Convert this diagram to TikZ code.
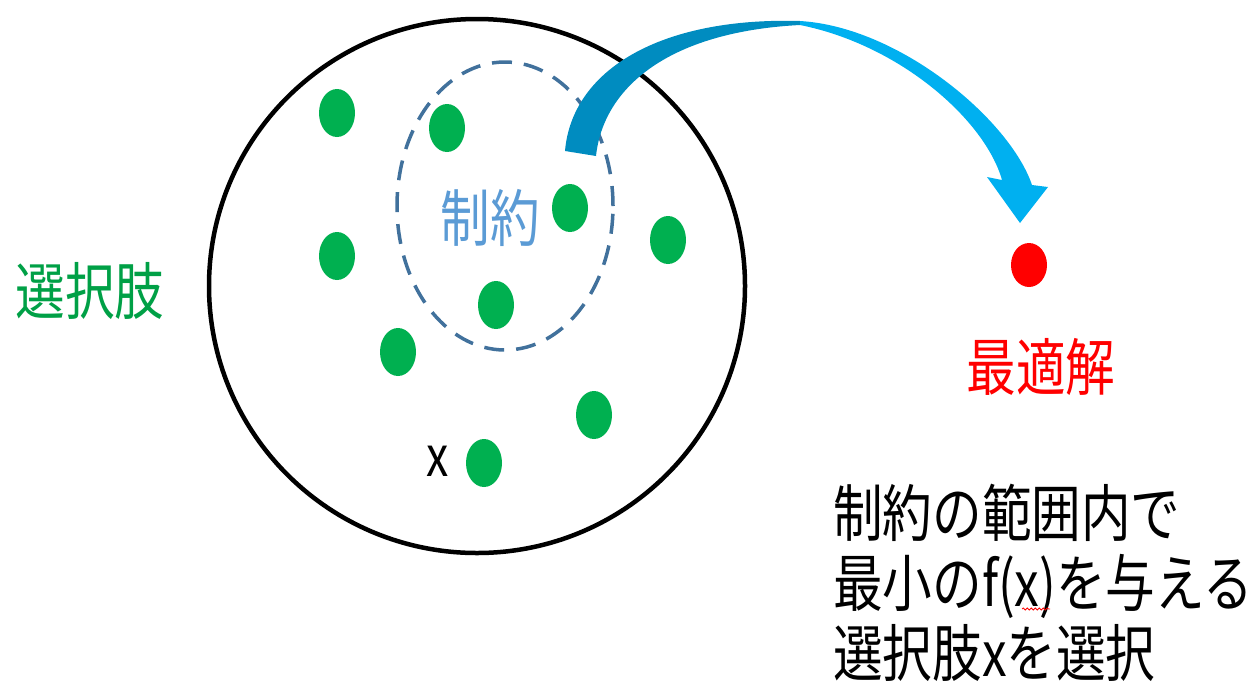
\documentclass[tikz,border=0pt]{standalone}
\usepackage{fontspec}
\newfontfamily\cjk[FakeStretch=0.8]{Noto Sans CJK JP}
\usetikzlibrary{shapes.geometric,decorations.pathmorphing}
\definecolor{dotgreen}{RGB}{0,176,80}
\definecolor{labgreen}{RGB}{0,160,70}
\definecolor{conblue}{RGB}{91,155,213}
\definecolor{dashblue}{RGB}{65,113,156}
\definecolor{arrdark}{RGB}{0,140,192}
\definecolor{arrlight}{RGB}{0,176,240}
\definecolor{optred}{RGB}{255,0,0}
\tikzset{
  dot/.style={ellipse, fill=dotgreen, draw=none, minimum width=36pt, minimum height=48pt, inner sep=0pt},
  reddot/.style={ellipse, fill=optred, draw=none, minimum width=36pt, minimum height=44pt, inner sep=0pt},
  big/.style={ellipse, draw=black, line width=4.5pt, minimum width=536pt, minimum height=534pt, inner sep=0pt},
  constr/.style={ellipse, draw=dashblue, line width=3.5pt, dash pattern=on 20pt off 12pt, minimum width=216pt, minimum height=288pt, inner sep=0pt},
  lab/.style={font=\cjk\fontsize{62}{70}\selectfont, inner sep=0pt},
}
\begin{document}
\begin{tikzpicture}[x=1pt,y=-1pt]
\useasboundingbox (0,0) rectangle (1255,694);
\node[big] (set) at (477,286) {};
\node[constr] (con) at (505,206) {};
\node[dot] (d1) at (337,113) {};
\node[dot] (d2) at (447,128) {};
\node[dot] (d3) at (570,208) {};
\node[dot] (d4) at (668,240) {};
\node[dot] (d5) at (337,256) {};
\node[dot] (d6) at (496,305) {};
\node[dot] (d7) at (398,352) {};
\node[dot] (d8) at (594,415) {};
\node[dot] (d9) at (484,463) {};
\node[reddot] (opt) at (1029,265) {};
% curved block arrow
\coordinate (t1) at (565,151);
\coordinate (t2) at (596,156);
\coordinate (top1) at (800,21);
\coordinate (top2) at (800,25);
\fill[arrdark] (t1) .. controls (572,70) and (660,17) .. (top1)
  -- (top2) .. controls (665,32) and (603,90) .. (t2) -- cycle;
\fill[arrlight] (top1) .. controls (900,27) and (1010,120) .. (1032,185)
  -- (1048,187) -- (1020,223) -- (987,177) -- (1002,180)
  .. controls (985,120) and (900,45) .. (top2) -- cycle;
\node[lab, text=labgreen] (sentaku) at (90,291) {選択肢};
\node[lab, text=conblue] (seiyaku) at (490,218) {制約};
\node[lab, text=optred] (saiteki) at (1041,367) {最適解};
\node[font=\cjk\fontsize{56}{60}\selectfont, inner sep=0pt] (xlab) at (438,461) {x};
\node[lab, align=left, anchor=west] (desc) at (833,583) {制約の範囲内で\\最小のf(x)を与える\\選択肢xを選択};
\draw[optred, line width=0.8pt, decorate, decoration={snake, amplitude=1pt, segment length=4pt}] (1022,609) -- (1050,609);
\end{tikzpicture}
\end{document}
